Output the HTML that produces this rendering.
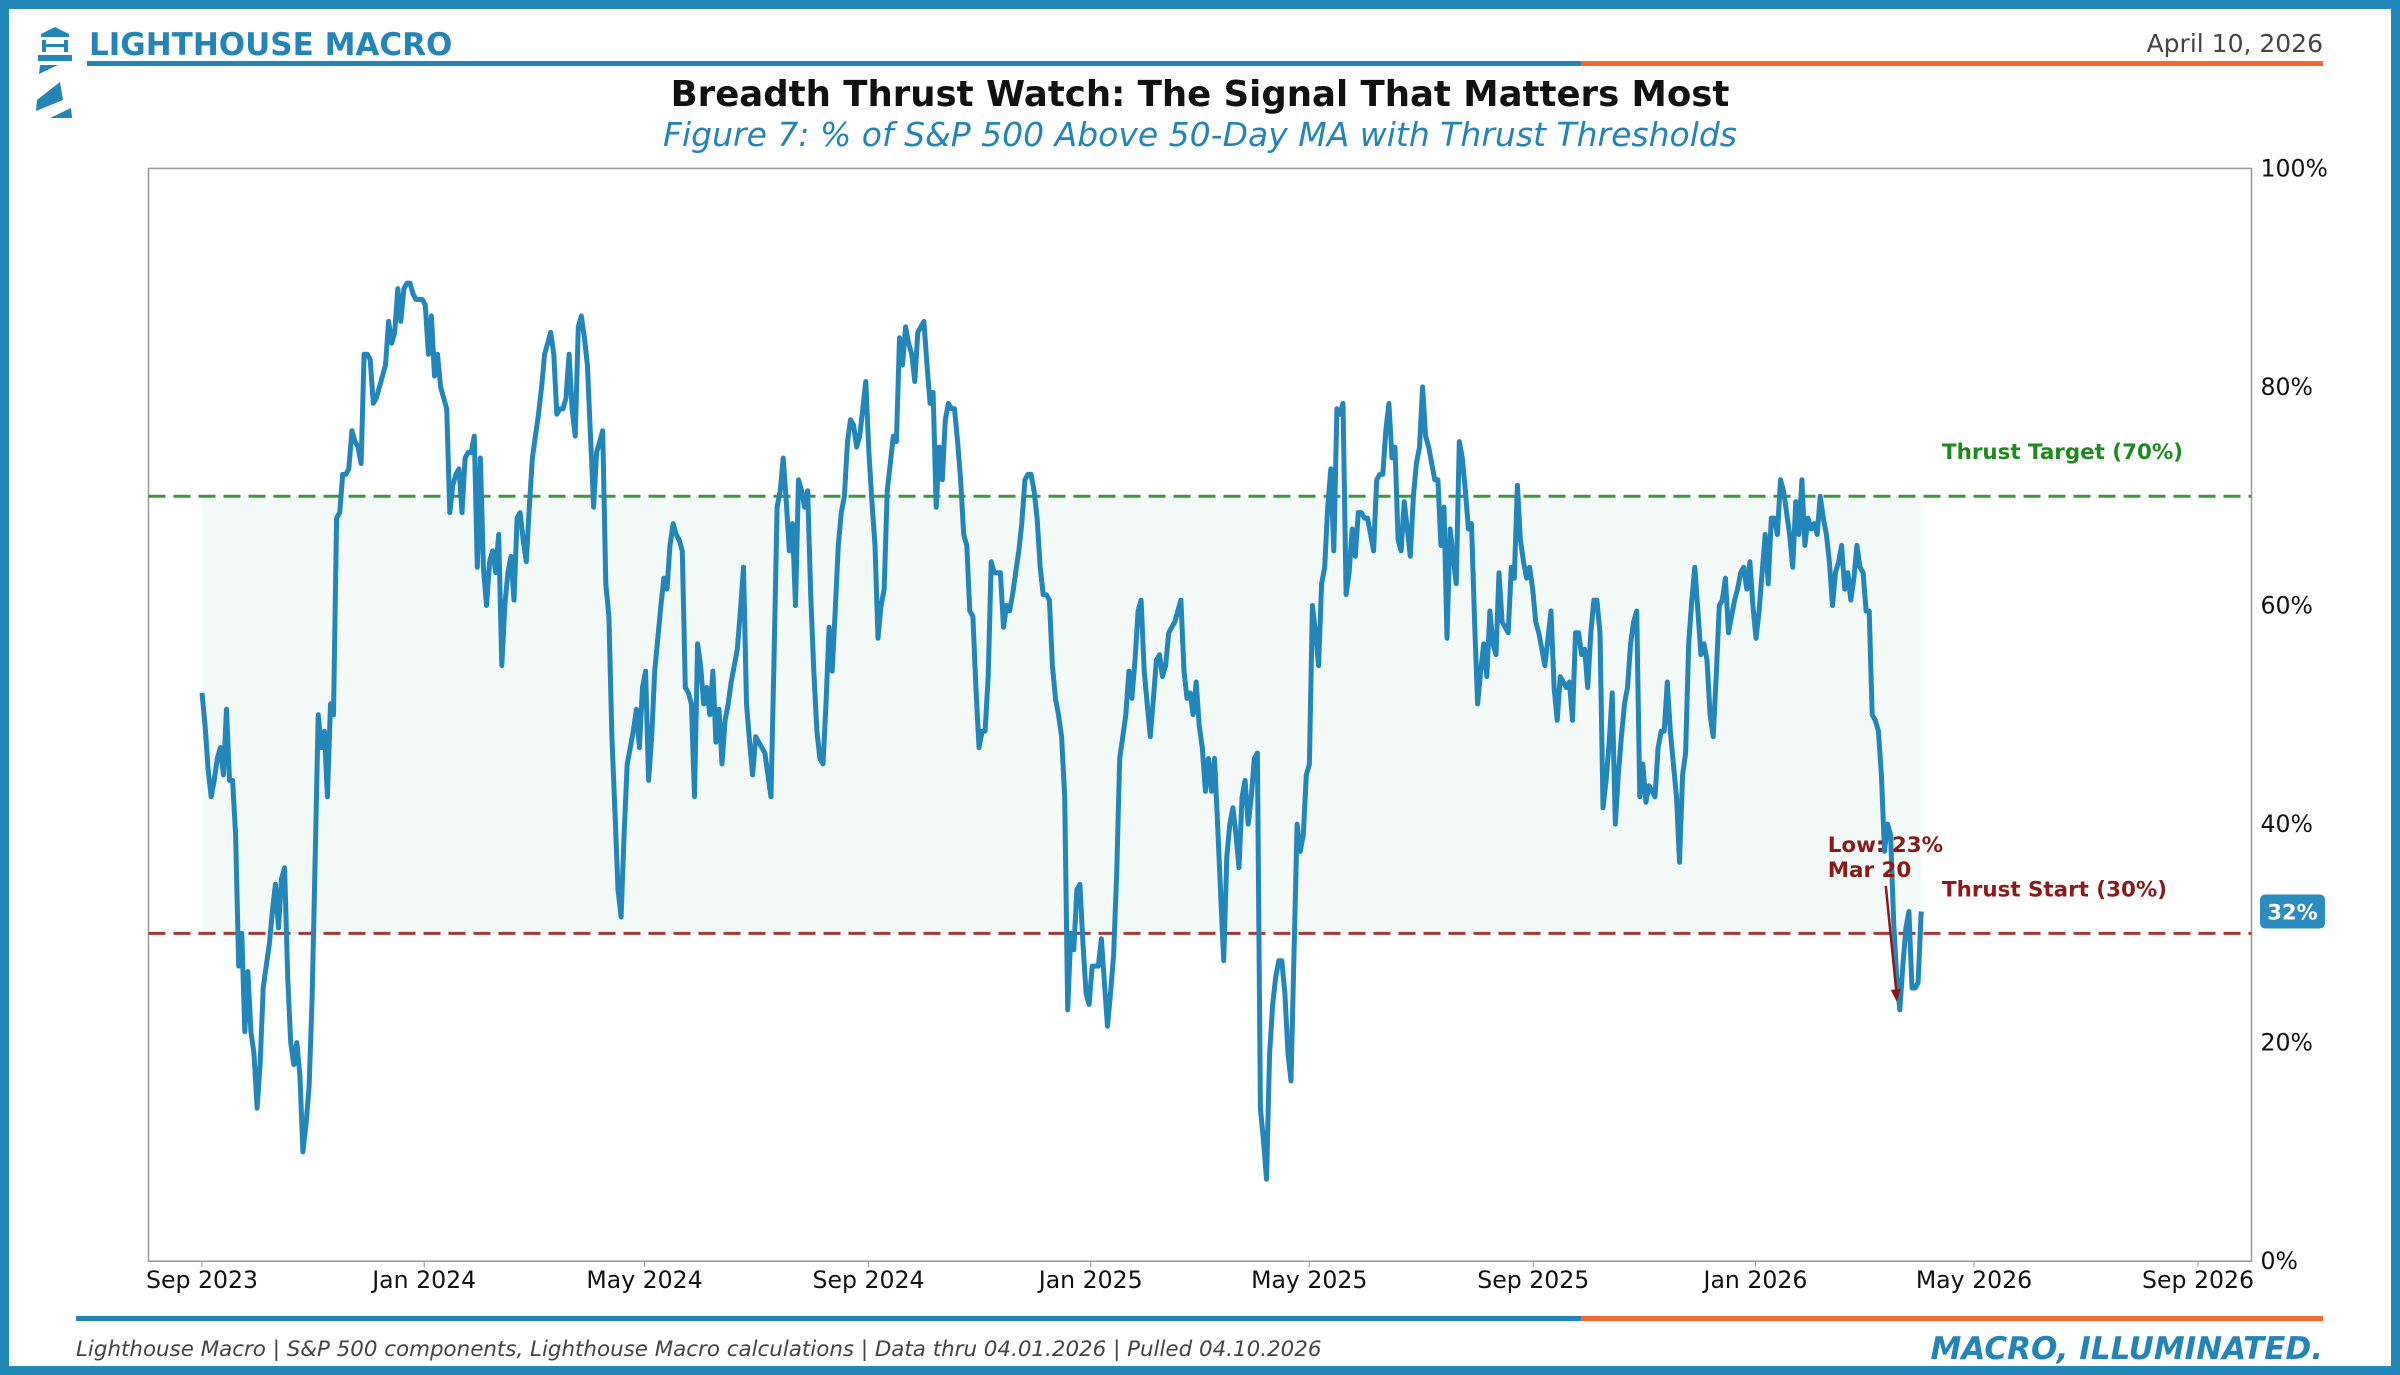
<!DOCTYPE html>
<html><head><meta charset="utf-8"><title>Breadth Thrust Watch</title>
<style>
html,body{margin:0;padding:0;background:#fff;}
#wrap{position:relative;width:2400px;height:1375px;overflow:hidden;background:#fff;}
svg text{font-family:"DejaVu Sans","Liberation Sans",sans-serif;}
</style></head>
<body>
<div id="wrap">
<svg id="chart" width="2400" height="1375" viewBox="0 0 2400 1375" xmlns="http://www.w3.org/2000/svg">
  <rect x="4.5" y="4.5" width="2391" height="1366" fill="none" stroke="#2389ba" stroke-width="9"/>
  <g fill="#2384b8">
    <polygon points="41,34 55,27 69,34 69,37 41,37"/>
    <rect x="42" y="40" width="4" height="12"/><rect x="64" y="40" width="4" height="12"/>
    <rect x="42" y="44" width="26" height="3"/>
    <rect x="38" y="55" width="34" height="6"/>
    <polygon points="40,65 58,65 39,74"/>
    <polygon points="37,100 60,82 63,100 36,111"/>
    <polygon points="50,118 71,108 72,118"/>
  </g>
  <text x="89" y="55" font-size="31" font-weight="bold" fill="#2384b8">LIGHTHOUSE MACRO</text>
  <text x="2323" y="52" font-size="25" fill="#444" text-anchor="end">April 10, 2026</text>
  <rect x="87" y="61" width="1494" height="5" fill="#2384b8"/>
  <rect x="1581" y="61" width="742" height="5" fill="#f26a2e"/>
  <text x="1200" y="106" font-size="35.5" font-weight="bold" fill="#111" text-anchor="middle">Breadth Thrust Watch: The Signal That Matters Most</text>
  <text x="1200" y="146" font-size="33" font-style="italic" fill="#2384b8" text-anchor="middle">Figure 7: % of S&amp;P 500 Above 50-Day MA with Thrust Thresholds</text>
  <g id="plot"></g>
  <rect x="76" y="1316" width="1505" height="5" fill="#2384b8"/>
  <rect x="1581" y="1316" width="742" height="5" fill="#f26a2e"/>
  <text x="76" y="1356" font-size="21.4" font-style="italic" fill="#444">Lighthouse Macro | S&amp;P 500 components, Lighthouse Macro calculations | Data thru 04.01.2026 | Pulled 04.10.2026</text>
  <text x="2323" y="1359" font-size="31" font-style="italic" font-weight="bold" fill="#2384b8" text-anchor="end">MACRO, ILLUMINATED.</text>
</svg>
</div>
<script>
const startDate = "2023-09-01";
const endDate = "2026-04-02";
const values = [
52,49,45,42.5,44,46,47,44.5,50.5,44,
44,39,27,30,21,26.5,21,19,14,18,
25,27,29,32,34.5,30.5,35,36,26,20,
18,20,17,10,12.5,16,24,37,50,47,
48.5,42.5,51,50,68,68.5,72,72,72.5,76,
75,74.5,73,83,83,82.5,78.5,79,80,81,
82,86,84,85,89,86,89,89.5,89.5,88.5,
88,88,88,87.5,83,86.5,81,83,80,79,
78,68.5,71,72,72.5,68.5,73.5,74,74,75.5,
63.5,73.5,63.5,60,64,65,63,66.5,54.5,60,
63,64.5,60.5,68,68.5,66,64,69,73.5,75.5,
77.5,80,83,84,85,83,77.5,78,78,79,
83,78,75.5,85.5,86.5,84.5,82,75.5,69,74,
75,76,62,59,48,41,34,31.5,39,45.5,
47,48.5,50.5,47,52.5,54,44,48,54,57,
60,62.5,61.5,65.5,67.5,66.5,66,65,52.5,52,
51,42.5,56.5,54.5,51,52.5,50,54,47.5,50.5,
45.5,49.5,51,53,54.5,56,59.5,63.5,51,47.5,
44.5,48,47.5,47,46.5,44.5,42.5,55,69,70.5,
73.5,69.5,65,67.5,60,71.5,70.5,69,70.5,61,
54,48.5,46,45.5,51,58,54,59.5,65.5,68.5,
70,75,77,76.5,74.5,75.5,78,80.5,74,69.5,
65.5,57,60,61.5,70.5,73,75.5,75,84.5,82,
85.5,84,83,80.5,85,85.5,86,82,78.5,79.5,
69,74.5,71.5,77,78.5,78,78,75,71.5,66.5,
65.5,59.5,59,52.5,47,48.5,48.5,53.5,64,63,
63,63,58,60,59.5,61,63,65,67.5,71.5,
72,72,70.5,68,63.5,61,61,60.5,54.5,51.5,
50,48,42.5,23,30,28.5,34,34.5,29,24.5,
23.5,27,27,27,29.5,25.5,21.5,24.5,28,35.5,
46,48,50,54,51.5,55,59.5,60.5,54,51,
48,51.5,55,55.5,53.5,54.5,57.5,58,58.5,59.5,
60.5,54,51.5,52,50,53,49,47,43,46,
43,46,40,33.5,27.5,37,40,41.5,39,36,
42.5,44,40,42.5,46,46.5,14,11,7.5,19,
23.5,26,27.5,27.5,24.5,19,16.5,28.5,40,37.5,
39,44.5,45.5,60,57.5,54.5,62,63.5,69,72.5,
65,78,77.5,78.5,61,63,67,64.5,68.5,68.5,
68,68,66.5,65,71.5,72,72,76,78.5,73.5,
74.5,66,65,69.5,67,64.5,70,73,74.5,80,
75.5,74.5,73,71.5,71.5,65.5,69,57,67,64.5,
62,75,73.5,70.5,67,67.5,58.5,51,54,56.5,
53.5,59.5,56.5,55.5,63,58.5,58,57.5,63.5,62.5,
71,66,64,62.5,63.5,61.5,58.5,57.5,56,54.5,
57,59.5,52.5,49.5,53.5,53,52.5,53,49.5,57.5,
57.5,55.5,56,52.5,57.5,60.5,60.5,57.5,41.5,44,
47.5,52,40,44.5,48,51,52.5,56.5,58.5,59.5,
42.5,45.5,42,43.5,43,42.5,47,48.5,48.5,53,
48.5,45.5,42.5,36.5,44.5,46.5,56.5,60.5,63.5,59.5,
55.5,56.5,55,50,48,53.5,60,60.5,62.5,57.5,
59,60.5,61.5,63,63.5,61.5,64,60,57,59.5,
63,66.5,62,68,68,66.5,71.5,70.5,68.5,66.5,
63.5,69.5,66.5,71.5,65.5,68,67,67.5,66.5,70,
68,66.5,64,60,63,64,65.5,61.5,63,60.5,
62.5,65.5,63.5,63,59.5,59.5,50,49.5,48.5,44.5,
37.5,40,39,31,26,23,27,30.5,32,25,
25,25.5,32
];
const xTickLabels = ["Sep 2023","Jan 2024","May 2024","Sep 2024","Jan 2025","May 2025","Sep 2025","Jan 2026","May 2026","Sep 2026"];
const xTickDates = ["2023-09-01","2024-01-01","2024-05-01","2024-09-01","2025-01-01","2025-05-01","2025-09-01","2026-01-01","2026-05-01","2026-09-01"];
const yTicks = [0,20,40,60,80,100];
const thresholds = [30,70];
const thresholdLabels = ["Thrust Start (30%)","Thrust Target (70%)"];
const lowValue = 23;
const lowLabel = "Mar 20";
const lowWindow = 30;

const NS = "http://www.w3.org/2000/svg";
const P = {l:148.5, r:2251.5, t:168.4, b:1261.2};
const T0 = Date.parse("2023-09-01"), T1 = Date.parse("2026-09-01");
const X0 = 202, X1 = 2198;
function xOf(ms){ return X0 + (ms - T0) / (T1 - T0) * (X1 - X0); }
function yOf(v){ return P.b - v / 100 * (P.b - P.t); }
function mk(tag, attrs, parent){
  const e = document.createElementNS(NS, tag);
  for (const k in attrs) e.setAttribute(k, attrs[k]);
  parent.appendChild(e);
  return e;
}
const plot = document.getElementById("plot");
const s0 = Date.parse(startDate), s1 = Date.parse(endDate);
const dates = values.map((_, i) => s0 + (s1 - s0) * i / (values.length - 1));

const frame = mk("rect", {x:P.l, y:P.t, width:P.r-P.l, height:P.b-P.t, fill:"#fff", stroke:"#999", "stroke-width":1.5}, plot);



const band = mk("rect", {x:xOf(dates[0]), y:yOf(thresholds[1]), width:xOf(dates[dates.length-1])-xOf(dates[0]), height:yOf(thresholds[0])-yOf(thresholds[1]), fill:"#f3faf8"}, plot);



const lineColors = ["#a33a3a","#3a9a3a"];
const labelColors = ["#8b1a1a","#1e8a1e"];
const labelNames = ["thrust-start-label","thrust-target-label"];
const lineNames = ["thrust-start-line","thrust-target-line"];
thresholds.forEach((t, i) => {
  const ln = mk("line", {x1:P.l, x2:P.r, y1:yOf(t), y2:yOf(t), stroke:lineColors[i], "stroke-width":3, "stroke-dasharray":"17,8"}, plot);
  
  
  const tx = mk("text", {x:1942, y:yOf(t)-37, "font-size":21.4, "font-weight":"bold", fill:labelColors[i]}, plot);
  tx.textContent = thresholdLabels[i];
  
  
});

const d = values.map((v, i) => (i ? "L" : "M") + xOf(dates[i]).toFixed(1) + "," + yOf(v).toFixed(1)).join("");
const path = mk("path", {d:d, fill:"none", stroke:"#2286bb", "stroke-width":5, "stroke-linejoin":"round"}, plot);



// low annotation (recent window)
let li = values.length - lowWindow;
for (let i = values.length - lowWindow; i < values.length; i++) { if (values[i] < values[li]) li = i; }
const lx = xOf(dates[li]), ly = yOf(values[li]);
const arr = mk("line", {x1:lx-14, y1:ly-124, x2:lx-3, y2:ly-14, stroke:"#8b1a1a", "stroke-width":2.5}, plot);


const ah = mk("polygon", {points:(lx-3)+","+(ly-8)+" "+(lx-9)+","+(ly-20)+" "+(lx+1)+","+(ly-21), fill:"#8b1a1a"}, plot);


const lt = mk("text", {x:lx-72, y:ly-158, "font-size":21.4, "font-weight":"bold", fill:"#8b1a1a"}, plot);
lt.textContent = "Low: " + lowValue + "%";


const lt2 = mk("text", {x:lx-72, y:ly-133, "font-size":21.4, "font-weight":"bold", fill:"#8b1a1a"}, plot);
lt2.textContent = lowLabel;



// x ticks
xTickLabels.forEach((lab, i) => {
  const x = xOf(Date.parse(xTickDates[i]));
  const tk = mk("line", {x1:x, x2:x, y1:P.b, y2:P.b+6, stroke:"#999", "stroke-width":1}, plot);
  
  
  const t = mk("text", {x:x, y:P.b+27, "font-size":23.6, fill:"#111", "text-anchor":"middle"}, plot);
  t.textContent = lab;
  
  
});
// y ticks (right)
yTicks.forEach(v => {
  const t = mk("text", {x:P.r+9, y:yOf(v)+8, "font-size":23.6, fill:"#111"}, plot);
  t.textContent = v + "%";
  
  
});
// last value badge
const lastV = values[values.length-1];
const by = yOf(lastV);
const badge = mk("rect", {x:2260, y:by-17, width:65, height:34, rx:5, fill:"#2b8cc0"}, plot);


const bt = mk("text", {x:2292.5, y:by+8, "font-size":21, "font-weight":"bold", fill:"#fff", "text-anchor":"middle"}, plot);
bt.textContent = Math.round(lastV) + "%";


</script>
</body></html>
